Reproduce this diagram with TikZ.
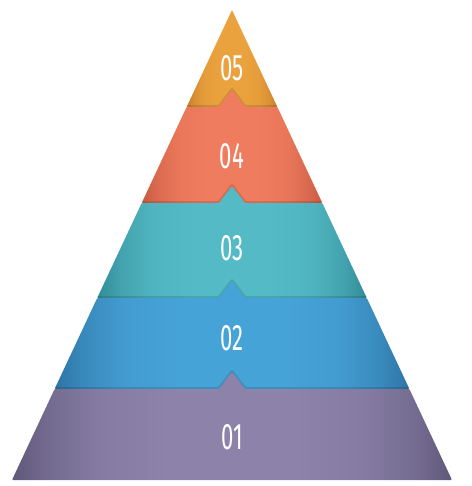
\documentclass[tikz,border=0pt]{standalone}
\usepackage{fontspec}
\newfontfamily\tierfont{Fira Sans}
\usetikzlibrary{positioning}
\definecolor{tierFive}{RGB}{234, 162, 62}
\definecolor{tierFiveDark}{RGB}{200, 128, 42}
\definecolor{tierFour}{RGB}{239, 124, 94}
\definecolor{tierFourDark}{RGB}{200, 90, 66}
\definecolor{tierThree}{RGB}{84, 187, 198}
\definecolor{tierThreeDark}{RGB}{50, 140, 152}
\definecolor{tierTwo}{RGB}{70, 163, 216}
\definecolor{tierTwoDark}{RGB}{46, 116, 164}
\definecolor{tierOne}{RGB}{140, 130, 170}
\definecolor{tierOneDark}{RGB}{96, 88, 122}
% soft darkening towards the slanted sides
\newcommand{\tiershade}[3]{%
  \pgfdeclarehorizontalshading{#1}{100bp}{%
    color(0bp)=(#3); color(25bp)=(#3);
    color(29bp)=(#2!45!#3); color(35bp)=(#2!85!#3); color(43bp)=(#2);
    color(57bp)=(#2); color(65bp)=(#2!85!#3); color(71bp)=(#2!45!#3);
    color(75bp)=(#3); color(100bp)=(#3)}}
\tiershade{tierFiveShade}{tierFive}{tierFiveDark}
\tiershade{tierFourShade}{tierFour}{tierFourDark}
\tiershade{tierThreeShade}{tierThree}{tierThreeDark}
\tiershade{tierTwoShade}{tierTwo}{tierTwoDark}
\tiershade{tierOneShade}{tierOne}{tierOneDark}
\newcommand{\tiernum}[1]{\scalebox{0.6}[1]{#1}}
\tikzset{
    tier_band/.style={
        draw=none,
        rounded corners=0.6pt
    },
    tier_seam/.style={
        draw=black,
        draw opacity=0.12,
        line width=2pt,
        line join=round
    },
    tier_label/.style={
        text=white,
        inner sep=0pt,
        font=\tierfont\fontsize{21}{21}\selectfont
    }
}

\begin{document}
\begin{tikzpicture}[x=0.02cm, y=-0.02cm]
    \useasboundingbox (0,0) rectangle (472,486);

    % top tier
    \shade[tier_band, shading=tierFiveShade]
        (232,10) -- (277.4,107) -- (186.6,107) -- cycle;

    % tier 04
    \draw[tier_seam] (186.6,107) -- (219,107) -- (232,90) -- (245,107) -- (277.4,107);
    \shade[tier_band, shading=tierFourShade]
        (186.6,107) -- (219,107) -- (232,90) -- (245,107) -- (277.4,107)
        -- (322.3,203) -- (141.7,203) -- cycle;

    % tier 03
    \draw[tier_seam] (141.7,203) -- (219,203) -- (232,186) -- (245,203) -- (322.3,203);
    \shade[tier_band, shading=tierThreeShade]
        (141.7,203) -- (219,203) -- (232,186) -- (245,203) -- (322.3,203)
        -- (366.8,298) -- (97.2,298) -- cycle;

    % tier 02
    \draw[tier_seam] (97.2,298) -- (219,298) -- (232,281) -- (245,298) -- (366.8,298);
    \shade[tier_band, shading=tierTwoShade]
        (97.2,298) -- (219,298) -- (232,281) -- (245,298) -- (366.8,298)
        -- (409.4,389) -- (54.6,389) -- cycle;

    % bottom tier
    \draw[tier_seam] (54.6,389) -- (219,389) -- (232,372) -- (245,389) -- (409.4,389);
    \shade[tier_band, shading=tierOneShade]
        (54.6,389) -- (219,389) -- (232,372) -- (245,389) -- (409.4,389)
        -- (452,480) -- (12,480) -- cycle;

    \node[tier_label] (t5) at (232,68) {\tiernum{05}};
    \node[tier_label] (t4) at (232,156) {\tiernum{04}};
    \node[tier_label] (t3) at (232,248) {\tiernum{03}};
    \node[tier_label] (t2) at (232,338) {\tiernum{02}};
    \node[tier_label] (t1) at (232,437) {\tiernum{01}};
\end{tikzpicture}
\end{document}
